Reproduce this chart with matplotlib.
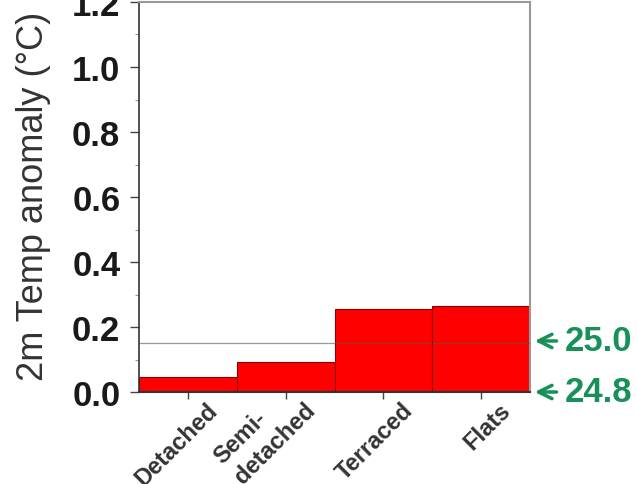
import matplotlib
matplotlib.use("Agg")
import matplotlib.pyplot as plt
import matplotlib.transforms as mtransforms
import numpy as np

# Values
categories = ["Detached", "Semi-\ndetached", "Terraced", "Flats"]
anomaly = [0.046, 0.092, 0.255, 0.265]
ref_line = 0.151
arrow_labels = ["25.0", "24.8"]
arrow_levels = [0.157, 0.0]

BAR_COLOR = "#ff0000"
EDGE_COLOR = "#8b0000"
GREEN = "#17905a"

plt.rcParams["font.family"] = ["Liberation Sans", "DejaVu Sans"]

fig = plt.figure(figsize=(6.37, 4.85), dpi=100)
ax = fig.add_axes([139 / 637, 1 - 393 / 485, (530 - 139) / 637, 390 / 485])

x = np.arange(len(categories))
ax.bar(x, anomaly, width=1.0, color=BAR_COLOR, edgecolor=EDGE_COLOR,
       linewidth=0.8, zorder=2)
ax.axhline(ref_line, color="#555555", linewidth=0.9, alpha=0.6, zorder=3)

ax.set_xlim(-0.5, len(categories) - 0.5)
ax.set_ylim(0, 1.2)
yt = np.arange(0, 1.21, 0.2)
ax.set_yticks(yt)
ax.set_yticklabels([f"{v:.1f}" for v in yt],
                   fontsize=25, fontweight="bold", color="#1a1a1a")
ax.set_yticks(np.arange(0.1, 1.2, 0.2), minor=True)
ax.tick_params(axis="y", which="major", direction="out", length=6.5,
               width=1.0, color="#444444", pad=7)
ax.tick_params(axis="y", which="minor", direction="out", length=3,
               width=0.8, color="#999999")

# x labels: anchored at the bottom-right so the last line of every
# label sits at the same place (two-line label grows up-left)
ax.set_xticks(x)
ax.set_xticklabels(categories, rotation=45, ha="right", va="bottom",
                   rotation_mode="anchor", fontsize=17, fontweight="bold",
                   color="#333333", linespacing=1.3, multialignment="left")
ax.tick_params(axis="x", direction="out", length=5, width=1.0,
               color="#444444", pad=11)
shift = mtransforms.ScaledTranslation(0.34, 0, fig.dpi_scale_trans)
for lab in ax.get_xticklabels():
    lab.set_transform(lab.get_transform() + shift)

ax.set_ylabel("2m Temp anomaly (\u00b0C)", fontsize=26, color="#333333")
ax.yaxis.set_label_coords(-0.225, 0.503)

for side in ("top", "right"):
    ax.spines[side].set_color("#999999")
    ax.spines[side].set_linewidth(1.5)
ax.spines["left"].set_color("#333333")
ax.spines["bottom"].set_color("#333333")
ax.spines["left"].set_linewidth(1.2)
ax.spines["bottom"].set_linewidth(1.5)

# Green arrows on the right, pointing back at the axis
for lab, lev in zip(arrow_labels, arrow_levels):
    ax.annotate("", xy=(1.005, lev), xycoords=("axes fraction", "data"),
                xytext=(1.075, lev), textcoords=("axes fraction", "data"),
                arrowprops=dict(arrowstyle="->", color=GREEN, lw=2.5,
                                mutation_scale=24),
                annotation_clip=False)
    ax.text(1.09, lev, lab, transform=ax.get_yaxis_transform(),
            ha="left", va="center", fontsize=25, fontweight="bold",
            color=GREEN, clip_on=False)

fig.savefig("out.png", dpi=100)
